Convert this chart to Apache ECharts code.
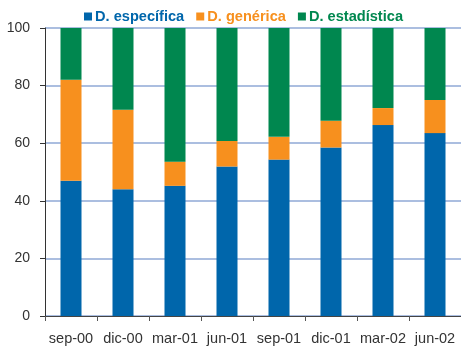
<!DOCTYPE html>
<html>
<head>
<meta charset="utf-8">
<script src="https://cdn.jsdelivr.net/npm/echarts@6/dist/echarts.min.js"></script>
<style>
  html, body { margin: 0; padding: 0; background: #fff; }
  #chart { width: 461px; height: 350px; }
</style>
</head>
<body>
<div id="chart"></div>
<script>
// Quarterly breakdown (percent of total)
var categories = ['sep-00', 'dic-00', 'mar-01', 'jun-01', 'sep-01', 'dic-01', 'mar-02', 'jun-02'];
var especifica  = [47.0, 44.0, 45.2, 51.9, 54.3, 58.5, 66.3, 63.5];
var generica    = [35.0, 27.6,  8.4,  8.9,  7.9,  9.3,  5.9, 11.5];
var estadistica = [18.0, 28.4, 46.4, 39.2, 37.8, 32.2, 27.8, 25.0];
var yTicks = [0, 20, 40, 60, 80, 100];

var colors = { blue: '#0066AB', orange: '#F7901E', green: '#00874F' };
var font = 'Liberation Sans, Arial, sans-serif';

var chart = echarts.init(document.getElementById('chart'));

function bar(name, data, color) {
  return {
    name: name,
    type: 'bar',
    stack: 'total',
    barWidth: 21,
    data: data,
    itemStyle: { color: color },
    emphasis: { disabled: true }
  };
}

chart.setOption({
  animation: false,
  textStyle: { fontFamily: font },
  legend: {
    top: 4,
    left: 79,
    itemWidth: 8,
    itemHeight: 8,
    itemGap: 12,
    icon: 'rect',
    data: [
      { name: 'D. específica', textStyle: { color: colors.blue } },
      { name: 'D. genérica', textStyle: { color: colors.orange } },
      { name: 'D. estadística', textStyle: { color: colors.green } }
    ],
    textStyle: { fontSize: 14.6, fontWeight: 'bold', fontFamily: font, padding: [0, 0, 0, -2] }
  },
  grid: { left: 45, top: 28, width: 418, height: 288 },
  xAxis: {
    type: 'category',
    data: categories,
    axisLine: { lineStyle: { color: '#444', width: 1 } },
    axisTick: { show: true, length: 5, lineStyle: { color: '#555' } },
    axisLabel: { color: '#333', fontSize: 14.5, margin: 15, fontFamily: font, interval: 0 }
  },
  yAxis: {
    type: 'value',
    min: yTicks[0],
    max: yTicks[yTicks.length - 1],
    interval: 20,
    axisLine: { show: true, lineStyle: { color: '#333', width: 1 } },
    axisTick: { show: true, length: 5, lineStyle: { color: '#333' } },
    axisLabel: { color: '#333', fontSize: 14, margin: 15, fontFamily: font },
    splitLine: { lineStyle: { color: '#8FA9D6', width: 1.5 } }
  },
  series: [
    bar('D. específica', especifica, colors.blue),
    bar('D. genérica', generica, colors.orange),
    bar('D. estadística', estadistica, colors.green)
  ]
});
</script>
</body>
</html>
